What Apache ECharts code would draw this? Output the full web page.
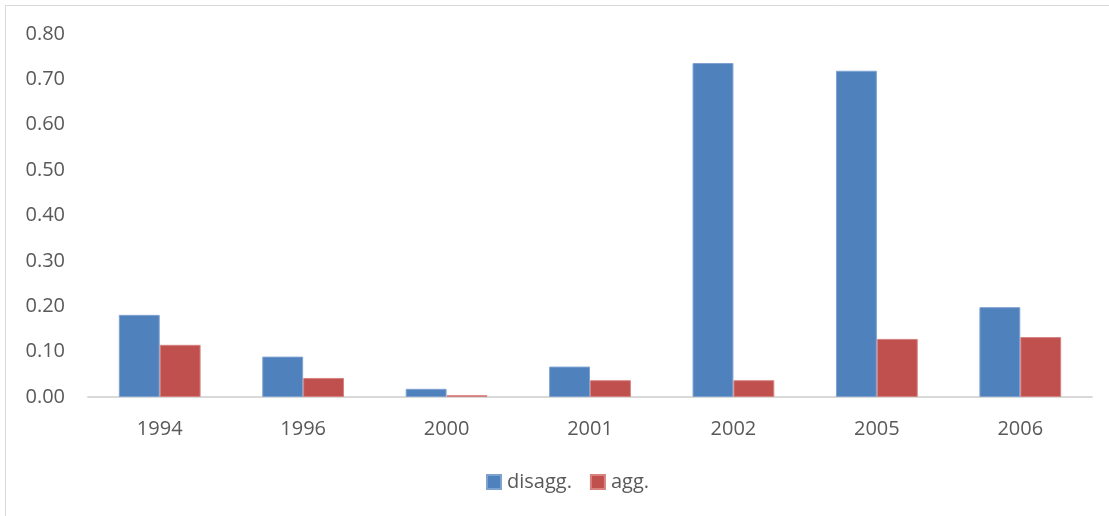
<!DOCTYPE html>
<html>
<head>
<meta charset="utf-8">
<script src="https://cdn.jsdelivr.net/npm/echarts@6/dist/echarts.min.js"></script>
<style>
  html, body { margin: 0; padding: 0; background: #fff; }
  #chart { width: 1109px; height: 516px; }
</style>
</head>
<body>
<div id="chart"></div>
<script>
// Survey years on the x axis
const years = ['1994', '1996', '2000', '2001', '2002', '2005', '2006'];
// Disaggregated and aggregated estimates per year
const disagg = [0.181, 0.089, 0.018, 0.067, 0.736, 0.719, 0.198];
const agg = [0.115, 0.042, 0.004, 0.037, 0.037, 0.128, 0.132];
const seriesNames = ['disagg.', 'agg.'];

const textColor = '#595959';
const fontFamily = '"Open Sans", sans-serif';

const chart = echarts.init(document.getElementById('chart'), null, { renderer: 'canvas' });

chart.setOption({
  backgroundColor: '#ffffff',
  animation: false,
  textStyle: { fontFamily: fontFamily, color: textColor },
  graphic: [
    {
      type: 'rect',
      shape: { x: 5.5, y: 5.5, width: 1200, height: 600 },
      style: { fill: 'none', stroke: '#d9d9d9', lineWidth: 1 },
      silent: true
    }
  ],
  grid: { left: 88, right: 17, top: 34, bottom: 119, containLabel: false },
  legend: {
    data: seriesNames,
    top: 467,
    left: 481,
    itemWidth: 14,
    itemHeight: 14,
    itemGap: 18,
    icon: 'rect',
    textStyle: { fontSize: 20, color: textColor, fontFamily: fontFamily, padding: [0, 0, 0, 1] }
  },
  xAxis: {
    type: 'category',
    data: years,
    axisLine: { lineStyle: { color: '#d9d9d9', width: 2 } },
    axisTick: { show: false },
    axisLabel: { fontSize: 20, color: textColor, margin: 22, fontFamily: fontFamily }
  },
  yAxis: {
    type: 'value',
    min: 0,
    max: 0.8,
    interval: 0.1,
    splitLine: { show: false },
    axisLine: { show: false },
    axisTick: { show: false },
    axisLabel: {
      fontSize: 20,
      color: textColor,
      margin: 23,
      fontFamily: fontFamily,
      formatter: v => v.toFixed(2)
    }
  },
  series: [
    {
      name: seriesNames[0],
      type: 'bar',
      data: disagg,
      barGap: '0%',
      barCategoryGap: '43%',
      itemStyle: { color: '#4F81BD', borderColor: '#7EA2D0', borderWidth: 1 }
    },
    {
      name: seriesNames[1],
      type: 'bar',
      data: agg,
      barGap: '0%',
      barCategoryGap: '43%',
      itemStyle: { color: '#C0504D', borderColor: '#D6827F', borderWidth: 1 }
    }
  ]
});
</script>
</body>
</html>
